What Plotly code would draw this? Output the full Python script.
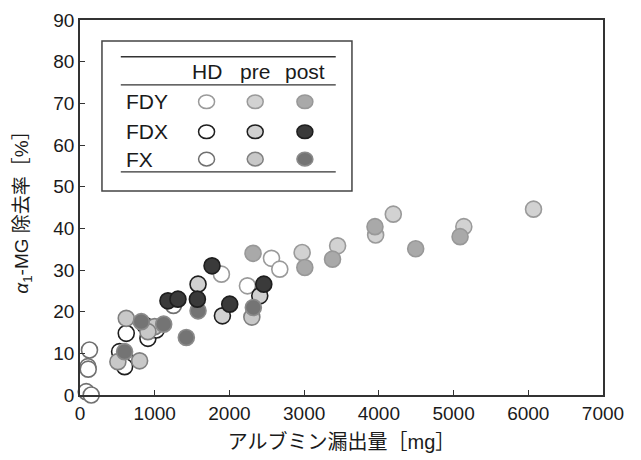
import plotly.graph_objects as go

# ---- data ----
FDY_HD_x = [2563, 2674, 1893, 2241]
FDY_HD_y = [32.8, 30.2, 29.0, 26.2]
FDY_pre_x = [4193, 6070, 3957, 5137, 2973, 3448]
FDY_pre_y = [43.4, 44.6, 38.4, 40.4, 34.2, 35.8]
FDY_post_x = [3948, 4493, 5087, 2316, 3009, 3380]
FDY_post_y = [40.4, 35.1, 38.0, 34.0, 30.6, 32.6]

FDX_HD_x = [619, 909, 865, 530, 597, 597, 1021]
FDX_HD_y = [14.8, 13.6, 16.8, 10.4, 8.8, 6.8, 15.6]
FDX_pre_x = [1580, 1906, 2406]
FDX_pre_y = [26.6, 19.0, 23.8]
FDX_post_x = [1767, 1571, 1177, 1311, 2004, 2460]
FDX_post_y = [31.0, 23.0, 22.6, 23.0, 21.8, 26.6]

FX_HD_x = [127, 105, 110, 83, 150, 1250]
FX_HD_y = [10.8, 6.8, 6.2, 0.8, 0.0, 21.5]
FX_pre_x = [2300, 999, 909, 619, 507, 798]
FX_pre_y = [18.7, 16.4, 15.2, 18.4, 8.0, 8.2]
FX_post_x = [2320, 1580, 1423, 1120, 820, 597]
FX_post_y = [21.0, 20.2, 13.8, 17.0, 17.6, 10.4]

x_ticks = [0, 1000, 2000, 3000, 4000, 5000, 6000, 7000]
y_ticks = [0, 10, 20, 30, 40, 50, 60, 70, 80, 90]

# ---- styles ----
STY = {
    "FDY_HD": ("white", "#9a9a9a"),
    "FDY_pre": ("#d2d2d2", "#9a9a9a"),
    "FDY_post": ("#a9a9a9", "#989898"),
    "FDX_HD": ("white", "#1e1e1e"),
    "FDX_pre": ("#d0d0d0", "#1e1e1e"),
    "FDX_post": ("#3a3a3a", "#1e1e1e"),
    "FX_HD": ("white", "#707070"),
    "FX_pre": ("#c8c8c8", "#808080"),
    "FX_post": ("#747474", "#8a8a8a"),
}

series = [
    ("FX_HD", FX_HD_x, FX_HD_y),
    ("FDY_HD", FDY_HD_x, FDY_HD_y),
    ("FDX_HD", FDX_HD_x, FDX_HD_y),
    ("FX_pre", FX_pre_x, FX_pre_y),
    ("FDY_pre", FDY_pre_x, FDY_pre_y),
    ("FDX_pre", FDX_pre_x, FDX_pre_y),
    ("FX_post", FX_post_x, FX_post_y),
    ("FDY_post", FDY_post_x, FDY_post_y),
    ("FDX_post", FDX_post_x, FDX_post_y),
]

FONT = "Liberation Sans, Arial, Noto Sans CJK JP, sans-serif"
TXT = "#1a1a1a"

fig = go.Figure()
for name, xs, ys in series:
    fill, line = STY[name]
    fig.add_trace(go.Scatter(
        x=xs, y=ys, mode="markers", name=name, cliponaxis=False,
        marker=dict(size=16, color=fill, line=dict(color=line, width=1.6)),
        showlegend=False,
    ))

# ---- manual legend table (paper coords) ----
shapes = []
shapes.append(dict(type="rect", xref="paper", yref="paper", x0=0.042, x1=0.520,
                   y0=0.544, y1=0.944, line=dict(color="#444", width=1.5),
                   fillcolor="white", layer="below"))
for yy in [0.902, 0.827, 0.595]:
    shapes.append(dict(type="line", xref="paper", yref="paper", x0=0.078, x1=0.489,
                       y0=yy, y1=yy, line=dict(color="#333", width=1.3)))

cols = [("HD", 0.242), ("pre", 0.335), ("post", 0.430)]
rows = [("FDY", 0.782), ("FDX", 0.702), ("FX", 0.629)]
rx, ry = 8 / 523, 6.8 / 375
for rname, ryc in rows:
    for cname, cx in cols:
        fill, line = STY[f"{rname}_{cname}"]
        shapes.append(dict(type="circle", xref="paper", yref="paper",
                           x0=cx - rx, x1=cx + rx, y0=ryc - ry, y1=ryc + ry,
                           fillcolor=fill, line=dict(color=line, width=1.5)))

annotations = []
for cname, cx in cols:
    annotations.append(dict(text=cname, xref="paper", yref="paper", x=cx, y=0.862,
                            showarrow=False, xanchor="center", yanchor="middle",
                            font=dict(size=21, color=TXT, family=FONT)))
for rname, ryc in rows:
    annotations.append(dict(text=rname, xref="paper", yref="paper", x=0.084, y=ryc,
                            showarrow=False, xanchor="left", yanchor="middle",
                            font=dict(size=21, color=TXT, family=FONT)))

# page body has an 8px default margin, compensate in the figure margins
fig.update_layout(
    width=641, height=460,
    margin=dict(l=72, r=46, t=12, b=73),
    paper_bgcolor="white", plot_bgcolor="white",
    font=dict(family=FONT, color=TXT, size=19),
    shapes=shapes, annotations=annotations,
    xaxis=dict(range=[0, 7000], tickvals=x_ticks, ticks="inside", ticklen=5,
               tickcolor="#333", showline=True, mirror=True, linecolor="#333",
               linewidth=1.5, showgrid=False, zeroline=False, automargin=False,
               tickfont=dict(size=19, color=TXT),
               title=dict(text="アルブミン漏出量［mg］", font=dict(size=20, color=TXT), standoff=12)),
    yaxis=dict(range=[0, 90], tickvals=y_ticks, ticks="inside", ticklen=5,
               tickcolor="#333", showline=True, mirror=True, linecolor="#333",
               linewidth=1.5, showgrid=False, zeroline=False, automargin=False,
               tickfont=dict(size=19, color=TXT),
               title=dict(text="<i>α</i><sub>1</sub>-MG 除去率［%］", font=dict(size=19, color=TXT), standoff=20)),
)

fig.write_html("out.html")
